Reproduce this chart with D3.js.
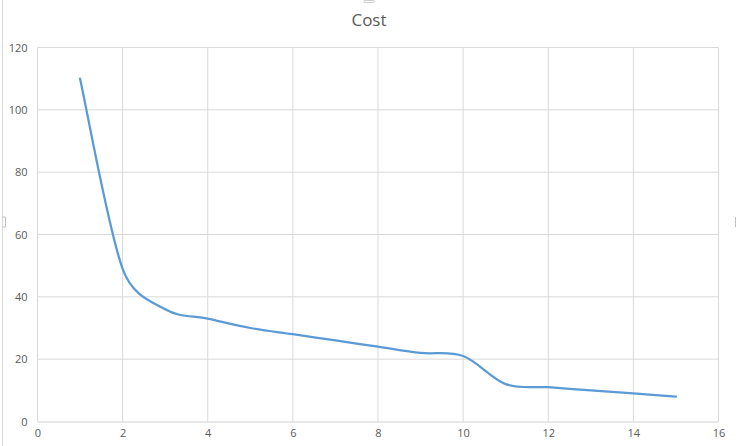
<!DOCTYPE html>
<html>
<head>
<meta charset="utf-8">
<script src="https://cdn.jsdelivr.net/npm/d3@7"></script>
<style>
  body { margin: 0; background: #fff; }
  svg { display: block; font-family: "Open Sans", "Noto Sans", sans-serif; }
</style>
</head>
<body>
<div id="container"></div>
<script>
const xValues = [1, 2, 3, 4, 5, 6, 7, 8, 9, 10, 11, 12, 13, 14, 15];
const costValues = [110, 49, 36, 33, 30, 28, 26, 24, 22, 21, 12, 11, 10, 9, 8];
const xTicks = [0, 2, 4, 6, 8, 10, 12, 14, 16];
const yTicks = [0, 20, 40, 60, 80, 100, 120];

const W = 738, H = 446;
const margin = { top: 47.5, right: 19.5, bottom: 24.5, left: 37.5 };
const width = W - margin.left - margin.right;
const height = H - margin.top - margin.bottom;

// spreadsheet-style smoothing: 1/6 tangents, capped at half the segment
function smoothCurve(context) {
  let pts = [];
  return {
    areaStart() {}, areaEnd() {},
    lineStart() { pts = []; },
    point(x, y) { pts.push([+x, +y]); },
    lineEnd() {
      if (!pts.length) return;
      context.moveTo(pts[0][0], pts[0][1]);
      for (let i = 0; i < pts.length - 1; i++) {
        const p0 = pts[Math.max(i - 1, 0)], p1 = pts[i], p2 = pts[i + 1];
        const p3 = pts[Math.min(i + 2, pts.length - 1)];
        const seg = Math.hypot(p2[0] - p1[0], p2[1] - p1[1]);
        let t1 = [(p2[0] - p0[0]) / 6, (p2[1] - p0[1]) / 6];
        let t2 = [(p3[0] - p1[0]) / 6, (p3[1] - p1[1]) / 6];
        const cap = t => {
          const l = Math.hypot(t[0], t[1]);
          return l > seg / 2 ? [t[0] * seg / 2 / l, t[1] * seg / 2 / l] : t;
        };
        t1 = cap(t1); t2 = cap(t2);
        context.bezierCurveTo(p1[0] + t1[0], p1[1] + t1[1],
          p2[0] - t2[0], p2[1] - t2[1], p2[0], p2[1]);
      }
    }
  };
}

const svg = d3.select('#container')
  .append('svg')
  .attr('width', W)
  .attr('height', H);

// chart frame edge + selection handles
svg.append('line')
  .attr('x1', 2.5).attr('x2', 2.5)
  .attr('y1', 0).attr('y2', H)
  .attr('stroke', '#d9d9d9');
svg.append('path')
  .attr('d', 'M2.5,217 h3 v10 h-3')
  .attr('fill', 'none').attr('stroke', '#bfbfbf');
svg.append('path')
  .attr('d', 'M735.5,217 v10')
  .attr('fill', 'none').attr('stroke', '#bfbfbf');
svg.append('path')
  .attr('d', 'M364,0.5 h10 v2 h-10 z')
  .attr('fill', 'none').attr('stroke', '#d0d0d0');

svg.append('text')
  .attr('x', W / 2)
  .attr('y', 26)
  .attr('text-anchor', 'middle')
  .attr('fill', '#595959')
  .style('font-size', '17px')
  .text('Cost');

const g = svg.append('g')
  .attr('transform', `translate(${margin.left}, ${margin.top})`);

const x = d3.scaleLinear().domain([0, 16]).range([0, width]);
const y = d3.scaleLinear().domain([0, 120]).range([height, 0]);

// gridlines
g.append('g')
  .selectAll('line')
  .data(yTicks.filter(d => d > 0))
  .enter()
  .append('line')
  .attr('x1', 0).attr('x2', width)
  .attr('y1', d => y(d)).attr('y2', d => y(d))
  .attr('stroke', '#d9d9d9');

g.append('g')
  .selectAll('line')
  .data(xTicks)
  .enter()
  .append('line')
  .attr('x1', d => x(d)).attr('x2', d => x(d))
  .attr('y1', 0).attr('y2', height)
  .attr('stroke', '#d9d9d9');

// axes
const xAxis = d3.axisBottom(x).tickValues(xTicks).tickSize(0).tickPadding(8);
const yAxis = d3.axisLeft(y).tickValues(yTicks).tickSize(0).tickPadding(10);

const gx = g.append('g')
  .attr('transform', `translate(0, ${height})`)
  .call(xAxis);
gx.select('.domain').attr('stroke', '#d0d0d0');

const gy = g.append('g').call(yAxis);
gy.select('.domain').remove();

g.selectAll('.tick text')
  .attr('fill', '#595959')
  .style('font-size', '11px')
  .style('font-family', '"Open Sans", "Noto Sans", sans-serif');

// smoothed line
const data = xValues.map((d, i) => ({ x: d, v: costValues[i] }));
const line = d3.line()
  .x(d => x(d.x))
  .y(d => y(d.v))
  .curve(smoothCurve);

g.append('path')
  .datum(data)
  .attr('d', line)
  .attr('fill', 'none')
  .attr('stroke', '#5b9bd5')
  .attr('stroke-width', 2.25)
  .attr('stroke-linecap', 'round');
</script>
</body>
</html>
